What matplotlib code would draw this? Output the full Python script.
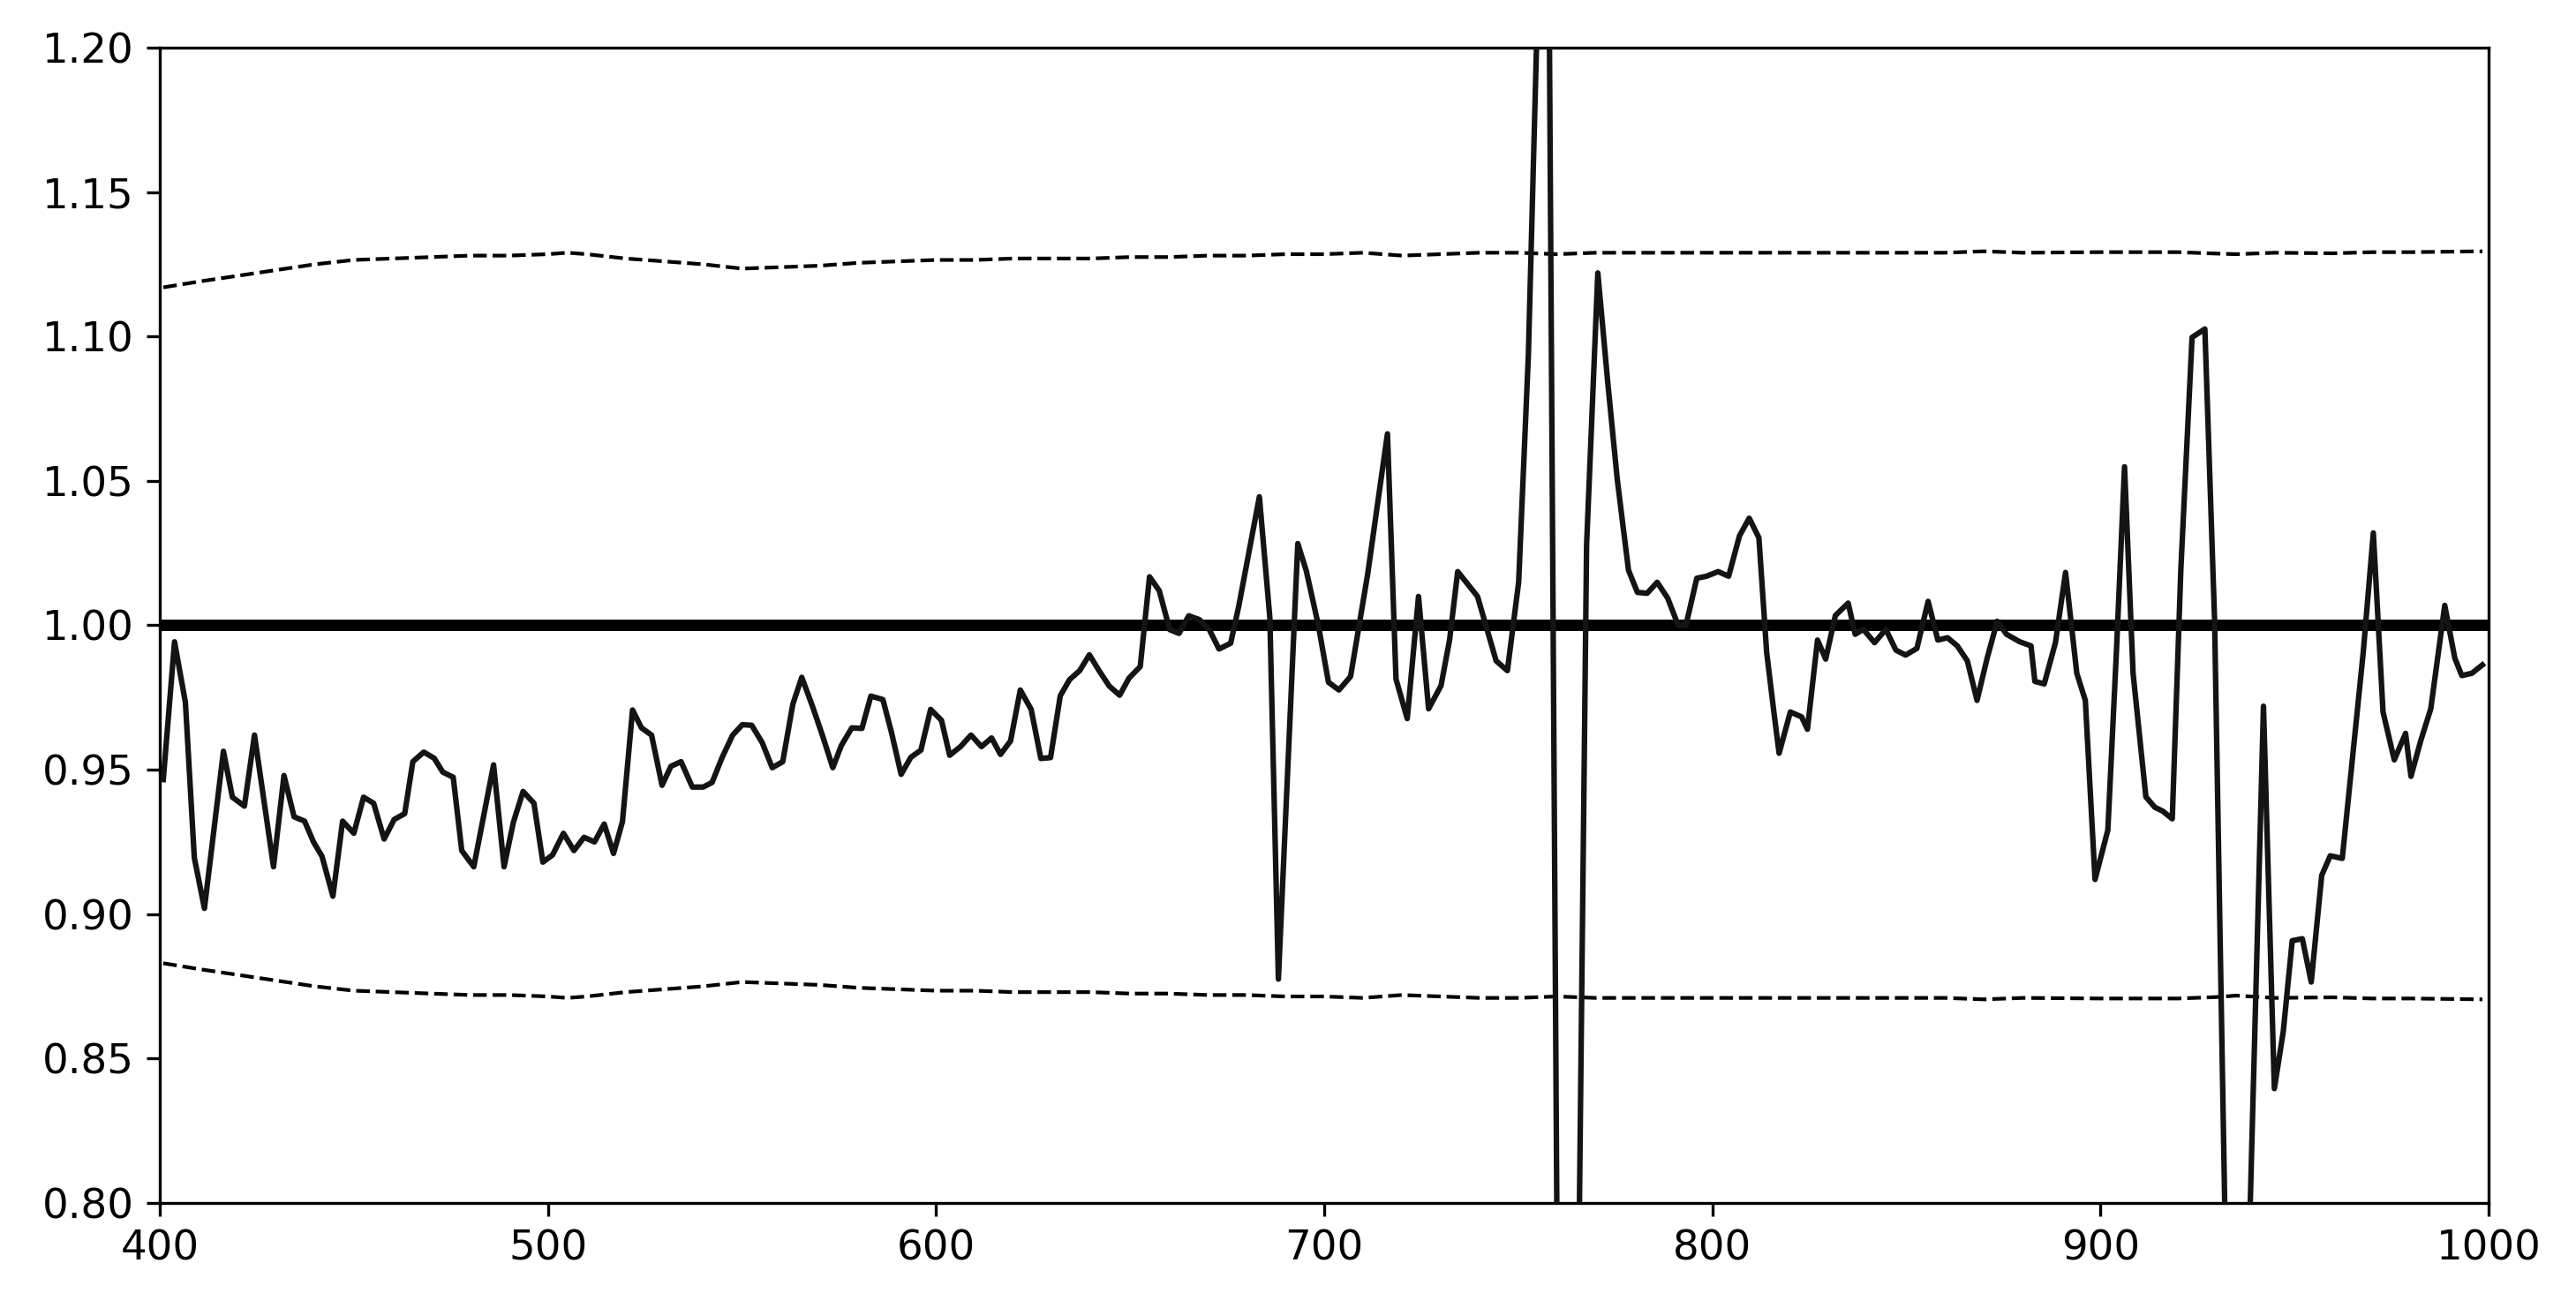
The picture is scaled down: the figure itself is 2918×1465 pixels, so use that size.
import matplotlib
matplotlib.use("Agg")
import matplotlib.pyplot as plt
from matplotlib.ticker import FormatStrFormatter

# ---- data ----
wavelength = [
    400.9, 403.8, 406.6, 408.9, 411.5, 416.4, 418.7, 421.8, 424.4, 429.3,
    432.0, 434.6, 437.3, 439.6, 441.8, 444.6, 447.1, 450.0, 452.5, 455.1,
    457.8, 460.4, 463.1, 465.2, 468.0, 470.7, 472.9, 475.6, 477.8, 480.9,
    486.0, 488.7, 491.1, 493.6, 496.4, 498.7, 501.2, 504.0, 506.7, 509.3,
    512.0, 514.5, 516.9, 519.2, 521.8, 524.1, 526.7, 529.4, 531.7, 534.3,
    537.2, 540.0, 542.3, 544.9, 547.6, 550.1, 552.5, 555.2, 557.8, 560.5,
    563.1, 565.4, 568.1, 570.7, 573.4, 575.6, 578.3, 580.9, 583.2, 586.3,
    588.5, 591.0, 593.5, 596.1, 598.6, 601.4, 603.5, 606.3, 609.0, 611.7,
    614.3, 616.6, 619.2, 621.7, 624.5, 627.0, 629.5, 632.0, 634.4, 637.0,
    639.5, 642.0, 644.6, 647.3, 649.7, 652.6, 655.0, 657.5, 660.2, 662.6,
    665.1, 667.8, 670.4, 672.9, 675.9, 678.0, 683.3, 686.0, 688.2, 693.2,
    695.4, 698.5, 701.1, 703.8, 706.8, 711.2, 716.3, 718.5, 721.4, 724.3,
    726.9, 730.1, 732.3, 734.4, 739.5, 744.3, 747.2, 750.1, 752.6, 755.0,
    757.2, 760.3, 762.9, 765.3, 767.6, 770.5, 773.0, 775.5, 778.4, 780.7,
    783.2, 785.8, 788.5, 791.2, 793.2, 796.0, 798.5, 801.5, 804.2, 807.0,
    809.5, 812.0, 814.0, 815.8, 817.2, 820.1, 823.0, 824.5, 827.1, 829.2,
    831.7, 835.0, 836.8, 838.9, 841.8, 844.7, 847.3, 849.8, 852.7, 855.6,
    858.1, 860.6, 863.1, 865.7, 868.2, 870.8, 873.4, 875.8, 879.2, 882.1,
    883.1, 885.5, 888.4, 891.0, 893.9, 896.1, 898.6, 901.9, 904.1, 906.2,
    908.4, 911.7, 914.0, 916.0, 918.5, 920.7, 923.6, 926.9, 929.4, 932.2,
    935.1, 938.0, 942.0, 944.8, 947.1, 949.4, 952.0, 954.3, 957.0, 959.2,
    962.3, 965.1, 967.7, 970.3, 972.8, 975.7, 978.6, 980.0, 982.5, 985.1,
    988.7, 991.3, 993.1, 995.7, 998.4,
]
ratio = [
    0.9466, 0.9943, 0.9733, 0.9195, 0.9020, 0.9564, 0.9405, 0.9374, 0.9620, 0.9164,
    0.9480, 0.9337, 0.9322, 0.9250, 0.9200, 0.9062, 0.9322, 0.9280, 0.9405, 0.9384,
    0.9260, 0.9328, 0.9348, 0.9528, 0.9561, 0.9540, 0.9492, 0.9474, 0.9220, 0.9164,
    0.9517, 0.9164, 0.9318, 0.9425, 0.9384, 0.9180, 0.9205, 0.9280, 0.9220, 0.9266,
    0.9250, 0.9312, 0.9210, 0.9320, 0.9707, 0.9645, 0.9620, 0.9446, 0.9512, 0.9528,
    0.9440, 0.9440, 0.9456, 0.9543, 0.9620, 0.9656, 0.9654, 0.9594, 0.9507, 0.9528,
    0.9727, 0.9820, 0.9722, 0.9620, 0.9507, 0.9584, 0.9645, 0.9643, 0.9755, 0.9743,
    0.9630, 0.9484, 0.9543, 0.9568, 0.9709, 0.9671, 0.9550, 0.9580, 0.9620, 0.9580,
    0.9610, 0.9553, 0.9600, 0.9776, 0.9709, 0.9539, 0.9542, 0.9756, 0.9812, 0.9843,
    0.9898, 0.9843, 0.9790, 0.9758, 0.9817, 0.9857, 1.0168, 1.0120, 0.9985, 0.9972,
    1.0033, 1.0020, 0.9985, 0.9918, 0.9938, 1.0067, 1.0445, 1.0026, 0.8775, 1.0283,
    1.0188, 1.0000, 0.9803, 0.9776, 0.9823, 1.0177, 1.0663, 0.9814, 0.9677, 1.0100,
    0.9711, 0.9791, 0.9949, 1.0186, 1.0100, 0.9877, 0.9843, 1.0149, 1.0934, 1.2150,
    1.3800, 0.7200, 0.6800, 0.7420, 1.0277, 1.1220, 1.0849, 1.0506, 1.0191, 1.0114,
    1.0111, 1.0149, 1.0094, 1.0000, 1.0000, 1.0163, 1.0170, 1.0186, 1.0170, 1.0310,
    1.0371, 1.0303, 0.9906, 0.9706, 0.9557, 0.9700, 0.9683, 0.9640, 0.9949, 0.9883,
    1.0034, 1.0077, 0.9969, 0.9986, 0.9940, 0.9986, 0.9914, 0.9897, 0.9920, 1.0083,
    0.9949, 0.9957, 0.9929, 0.9877, 0.9740, 0.9886, 1.0014, 0.9969, 0.9943, 0.9929,
    0.9806, 0.9797, 0.9940, 1.0183, 0.9834, 0.9740, 0.9120, 0.9291, 0.9906, 1.0549,
    0.9834, 0.9406, 0.9370, 0.9357, 0.9330, 1.0191, 1.0997, 1.1026, 1.0020, 0.7850,
    0.7200, 0.7700, 0.9720, 0.8396, 0.8594, 0.8908, 0.8915, 0.8765, 0.9134, 0.9202,
    0.9193, 0.9563, 0.9906, 1.0320, 0.9700, 0.9534, 0.9626, 0.9477, 0.9600, 0.9711,
    1.0069, 0.9886, 0.9826, 0.9834, 0.9863,
]

band_x = [
    400.9, 410, 420, 430, 440, 450, 460, 470, 480, 490, 500, 505, 510, 520, 530,
    540, 550, 560, 570, 580, 590, 600, 610, 620, 630, 640, 650, 660, 670, 680,
    690, 700, 710, 720, 730, 740, 750, 760, 770, 780, 800, 820, 840, 860, 870,
    880, 900, 920, 930, 935, 945, 960, 970, 980, 998.4,
]
upper = [
    1.1170, 1.1190, 1.1210, 1.1230, 1.1250, 1.1265, 1.1270, 1.1275, 1.1280, 1.1280,
    1.1285, 1.1290, 1.1285, 1.1270, 1.1260, 1.1250, 1.1235, 1.1240, 1.1245, 1.1255,
    1.1260, 1.1265, 1.1265, 1.1270, 1.1270, 1.1270, 1.1275, 1.1275, 1.1280, 1.1280,
    1.1285, 1.1285, 1.1290, 1.1280, 1.1285, 1.1290, 1.1290, 1.1285, 1.1290, 1.1290,
    1.1290, 1.1290, 1.1290, 1.1290, 1.1295, 1.1290, 1.1292, 1.1292, 1.1287, 1.1285,
    1.1290, 1.1288, 1.1292, 1.1292, 1.1295,
]
lower = [
    0.8830, 0.8810, 0.8790, 0.8770, 0.8750, 0.8735, 0.8730, 0.8725, 0.8720, 0.8720,
    0.8715, 0.8710, 0.8715, 0.8730, 0.8740, 0.8750, 0.8765, 0.8760, 0.8755, 0.8745,
    0.8740, 0.8735, 0.8735, 0.8730, 0.8730, 0.8730, 0.8725, 0.8725, 0.8720, 0.8720,
    0.8715, 0.8715, 0.8710, 0.8720, 0.8715, 0.8710, 0.8710, 0.8715, 0.8710, 0.8710,
    0.8710, 0.8710, 0.8710, 0.8710, 0.8705, 0.8710, 0.8708, 0.8708, 0.8713, 0.8718,
    0.8710, 0.8712, 0.8708, 0.8708, 0.8705,
]

x_ticks = [400, 500, 600, 700, 800, 900, 1000]
y_ticks = [0.80, 0.85, 0.90, 0.95, 1.00, 1.05, 1.10, 1.15, 1.20]

# ---- figure ----
plt.rcParams['font.family'] = ['DejaVu Sans']
W, H, DPI = 2918, 1465, 300
fig = plt.figure(figsize=(W / DPI, H / DPI), dpi=DPI)
ax = fig.add_axes([181 / W, 1 - 1363 / H, (2819 - 181) / W, (1363 - 54) / H])

ax.axhline(1.0, color='black', linewidth=3.1, zorder=2)
ax.plot(band_x, upper, color='black', linestyle='--', linewidth=1.0, zorder=2)
ax.plot(band_x, lower, color='black', linestyle='--', linewidth=1.0, zorder=2)
ax.plot(wavelength, ratio, color='#141414', linewidth=1.5, zorder=3)

ax.set_xlim(400, 1000)
ax.set_ylim(0.80, 1.20)
ax.set_xticks(x_ticks)
ax.set_yticks(y_ticks)
ax.yaxis.set_major_formatter(FormatStrFormatter('%.2f'))
ax.tick_params(labelsize=11.2)

fig.savefig('out.png', dpi=DPI)
